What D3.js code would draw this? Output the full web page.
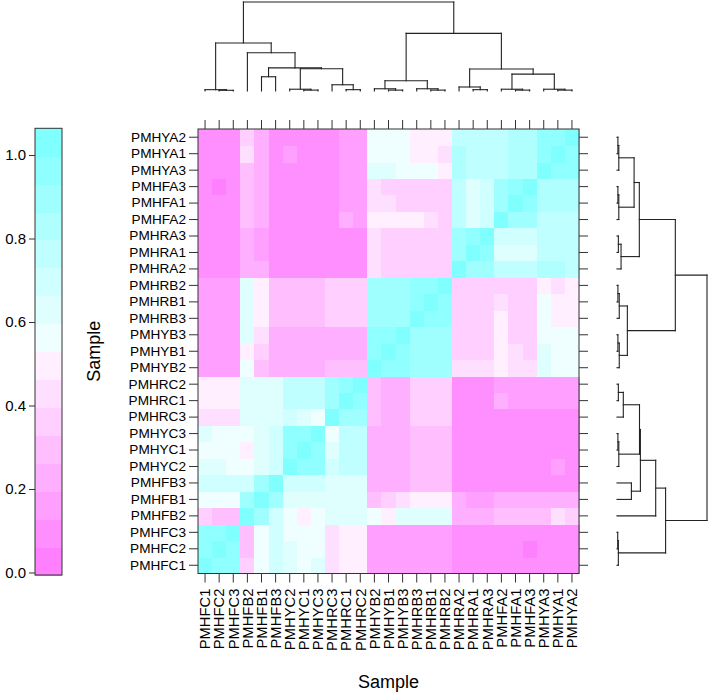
<!DOCTYPE html>
<html><head><meta charset="utf-8">
<script src="https://cdn.jsdelivr.net/npm/d3@7/dist/d3.min.js"></script>
<style>body{margin:0;background:#fff}svg{display:block}text{font-family:"Liberation Sans",Arial,Helvetica,sans-serif;fill:#000}</style>
</head><body><svg id="chart" width="709" height="694"></svg>
<script>
// ---- data ----
const samples = ["PMHFC1","PMHFC2","PMHFC3","PMHFB2","PMHFB1","PMHFB3","PMHYC2","PMHYC1","PMHYC3",
  "PMHRC3","PMHRC1","PMHRC2","PMHYB2","PMHYB1","PMHYB3","PMHRB3","PMHRB1","PMHRB2",
  "PMHRA2","PMHRA1","PMHRA3","PMHFA2","PMHFA1","PMHFA3","PMHYA3","PMHYA1","PMHYA2"];
// lower triangle of the symmetric correlation matrix (row i, columns 0..i)
const corrLower = [
 [1.00],
 [0.95,1.00],
 [0.95,0.97,1.00],
 [0.36,0.28,0.28,1.00],
 [0.56,0.55,0.55,0.90,1.00],
 [0.70,0.70,0.70,0.70,0.88,1.00],
 [0.62,0.62,0.58,0.55,0.63,0.68,1.00],
 [0.58,0.58,0.58,0.50,0.63,0.68,0.96,1.00],
 [0.64,0.58,0.58,0.55,0.63,0.68,0.94,0.96,1.00],
 [0.44,0.44,0.44,0.62,0.65,0.65,0.72,0.66,0.58,1.00],
 [0.49,0.49,0.49,0.62,0.65,0.65,0.74,0.74,0.74,0.93,1.00],
 [0.49,0.49,0.49,0.62,0.65,0.65,0.74,0.74,0.74,0.93,0.96,1.00],
 [0.16,0.16,0.16,0.55,0.32,0.21,0.20,0.20,0.20,0.28,0.28,0.28,1.00],
 [0.16,0.16,0.16,0.51,0.38,0.21,0.20,0.20,0.20,0.24,0.24,0.24,0.95,1.00],
 [0.16,0.16,0.16,0.60,0.45,0.21,0.20,0.20,0.20,0.24,0.24,0.24,0.95,0.97,1.00],
 [0.16,0.16,0.16,0.64,0.47,0.28,0.28,0.28,0.28,0.34,0.34,0.34,0.92,0.92,0.92,1.00],
 [0.16,0.16,0.16,0.64,0.47,0.28,0.28,0.28,0.28,0.34,0.34,0.34,0.92,0.92,0.92,0.95,1.00],
 [0.16,0.16,0.16,0.64,0.47,0.28,0.28,0.28,0.28,0.34,0.34,0.34,0.92,0.92,0.92,0.95,0.97,1.00],
 [0.10,0.10,0.10,0.25,0.21,0.10,0.10,0.10,0.10,0.10,0.10,0.10,0.45,0.36,0.36,0.36,0.36,0.36,1.00],
 [0.10,0.10,0.10,0.25,0.15,0.10,0.10,0.10,0.10,0.10,0.10,0.10,0.40,0.36,0.36,0.36,0.36,0.36,0.93,1.00],
 [0.10,0.10,0.10,0.25,0.15,0.10,0.10,0.10,0.10,0.10,0.10,0.10,0.40,0.36,0.36,0.36,0.36,0.36,0.93,0.96,1.00],
 [0.10,0.10,0.10,0.30,0.24,0.10,0.10,0.10,0.10,0.10,0.20,0.14,0.47,0.47,0.47,0.47,0.44,0.36,0.75,0.65,0.70,1.00],
 [0.10,0.10,0.10,0.30,0.24,0.10,0.10,0.10,0.10,0.10,0.14,0.14,0.44,0.44,0.36,0.36,0.36,0.36,0.75,0.65,0.70,0.93,1.00],
 [0.10,0.04,0.10,0.30,0.24,0.10,0.10,0.10,0.10,0.10,0.14,0.14,0.44,0.36,0.36,0.36,0.36,0.36,0.75,0.65,0.70,0.90,0.95,1.00],
 [0.10,0.10,0.10,0.30,0.24,0.10,0.10,0.10,0.10,0.10,0.14,0.14,0.62,0.62,0.56,0.54,0.54,0.50,0.82,0.76,0.76,0.78,0.83,0.83,1.00],
 [0.10,0.10,0.10,0.43,0.24,0.10,0.17,0.10,0.10,0.10,0.14,0.14,0.56,0.56,0.56,0.50,0.50,0.44,0.82,0.76,0.76,0.78,0.83,0.83,0.95,1.00],
 [0.10,0.10,0.10,0.33,0.24,0.10,0.10,0.10,0.10,0.10,0.14,0.14,0.56,0.56,0.56,0.50,0.50,0.50,0.77,0.76,0.76,0.78,0.83,0.83,0.95,0.96,1.00]
];
const keyTicks = [0.0, 0.2, 0.4, 0.6, 0.8, 1.0];
const keyRange = [-0.006, 1.064];
const nBands = 16;
// hclust-style merges (negative = leaf position, 1-based; positive = earlier merge)
const mergeLeft   = [-2,-1,-8,-7,-11,-10,4,-5,8,-4,2,-14,-13,-17,-16,13,-20,-19,-23,-22,-26,-25,20,18,16,11];
const mergeRight  = [-3, 1,-9, 3,-12,  5,6,-6,7, 9,10,-15, 12,-18, 14,15,-21, 17,-24, 19,-27, 21,22,23,24,25];
const mergeHeight = [0.008,0.015,0.01,0.02,0.015,0.07,0.25,0.16,0.26,0.43,0.54,0.01,0.025,0.01,0.025,0.115,0.015,0.045,0.01,0.02,0.01,0.02,0.19,0.248,0.648,1.0];

// ---- layout ----
const svg = d3.select("#chart");
const H = {x0:198, x1:579, y0:129, y1:573.5};
const x = d3.scaleBand().domain(samples).range([H.x0, H.x1]);
const y = d3.scaleBand().domain(samples).range([H.y1, H.y0]);
const bw = x.bandwidth(), bh = y.bandwidth();

// colours: reversed cm.colors(16)
const pal = [];
for (let k = 0; k < nBands/2; k++) { const s = 0.5 - k*(0.5/(nBands/2)); pal.push(d3.rgb(255, Math.round(255*(1-s)), 255).formatHex()); }
for (let k = 1; k <= nBands/2; k++) { const s = k*(0.5/(nBands/2)); pal.push(d3.rgb(Math.round(255*(1-s)), 255, 255).formatHex()); }
const color = d3.scaleQuantize().domain(keyRange).range(pal);

const cells = [];
samples.forEach((ri, i) => samples.forEach((cj, j) => {
  const v = j <= i ? corrLower[i][j] : corrLower[j][i];
  cells.push({r: ri, c: cj, v});
}));
svg.append("g").attr("shape-rendering","crispEdges").selectAll("rect").data(cells).join("rect")
  .attr("x", d => x(d.c)).attr("y", d => y(d.r))
  .attr("width", bw + 0.6).attr("height", bh + 0.6)
  .attr("fill", d => color(d.v));

const lineCol = "#333";
svg.append("rect").attr("x",H.x0).attr("y",H.y0).attr("width",H.x1-H.x0).attr("height",H.y1-H.y0)
  .attr("fill","none").attr("stroke",lineCol).attr("stroke-width",1);

// axes
const tk = 9;
const axL = svg.append("g").attr("transform",`translate(${H.x0},0)`).call(d3.axisLeft(y).tickSize(tk).tickPadding(3));
const axR = svg.append("g").attr("transform",`translate(${H.x1},0)`).call(d3.axisRight(y).tickSize(tk).tickFormat(""));
const axT = svg.append("g").attr("transform",`translate(0,${H.y0})`).call(d3.axisTop(x).tickSize(tk).tickFormat(""));
const axB = svg.append("g").attr("transform",`translate(0,${H.y1})`).call(d3.axisBottom(x).tickSize(tk).tickPadding(6));
[axL,axR,axT,axB].forEach(a => { a.select(".domain").remove(); a.selectAll("line").attr("stroke",lineCol); });
axL.selectAll("text").style("font-size","13.6px").attr("font-family",null);
axB.selectAll("text").style("font-size","14.8px").attr("font-family",null)
  .attr("transform","rotate(-90)").attr("text-anchor","end").attr("dy","0.36em").attr("x",-(tk+6)).attr("y",0);

// titles
svg.append("text").attr("x",(H.x0+H.x1)/2).attr("y",688).attr("text-anchor","middle").style("font-size","18px").text("Sample");
svg.append("text").attr("transform",`translate(100,${(H.y0+H.y1)/2}) rotate(-90)`).attr("text-anchor","middle").style("font-size","18px").text("Sample");

// colour key
const K = {x0:35, x1:62, y0:128.3, y1:575};
const ky = d3.scaleLinear().domain(keyRange).range([K.y1, K.y0]);
const edges = d3.range(nBands+1).map(k => keyRange[0] + k*(keyRange[1]-keyRange[0])/nBands);
svg.append("g").attr("shape-rendering","crispEdges").selectAll("rect").data(pal).join("rect")
  .attr("x",K.x0).attr("width",K.x1-K.x0)
  .attr("y",(d,k) => ky(edges[k+1])).attr("height",(d,k) => ky(edges[k]) - ky(edges[k+1]) + 0.5)
  .attr("fill", d => d);
svg.append("rect").attr("x",K.x0).attr("y",K.y0).attr("width",K.x1-K.x0).attr("height",K.y1-K.y0)
  .attr("fill","none").attr("stroke",lineCol);
const axK = svg.append("g").attr("transform",`translate(${K.x0},0)`).call(d3.axisLeft(ky).tickValues(keyTicks).tickFormat(d3.format(".1f")).tickSize(6).tickPadding(3));
axK.select(".domain").remove(); axK.selectAll("line").attr("stroke",lineCol);
axK.selectAll("text").style("font-size","15px").attr("font-family",null);

// dendrograms
function layoutDendro(leafPos) {
  const pos = [], ht = [];
  const P = r => r < 0 ? leafPos(-r-1) : pos[r-1];
  const Hh = r => r < 0 ? 0 : ht[r-1];
  const segs = [];
  mergeLeft.forEach((a, m) => {
    const b = mergeRight[m], h = mergeHeight[m];
    const pa = P(a), pb = P(b);
    segs.push([pa, Hh(a), pa, h], [pa, h, pb, h], [pb, Hh(b), pb, h]);
    pos.push((pa+pb)/2); ht.push(h);
  });
  return segs;
}
const dTop = d3.scaleLinear().domain([0,1]).range([91, 2]);
const dRight = d3.scaleLinear().domain([0,1]).range([617, 707]);
const segTop = layoutDendro(k => x(samples[k]) + bw/2);
svg.append("g").selectAll("line").data(segTop).join("line")
  .attr("x1", s => s[0]).attr("y1", s => dTop(s[1])).attr("x2", s => s[2]).attr("y2", s => dTop(s[3]))
  .attr("stroke","#222").attr("stroke-width",1.1).attr("stroke-linecap","square");
const segRight = layoutDendro(k => y(samples[k]) + bh/2);
svg.append("g").selectAll("line").data(segRight).join("line")
  .attr("y1", s => s[0]).attr("x1", s => dRight(s[1])).attr("y2", s => s[2]).attr("x2", s => dRight(s[3]))
  .attr("stroke","#222").attr("stroke-width",1.1).attr("stroke-linecap","square");
</script></body></html>
